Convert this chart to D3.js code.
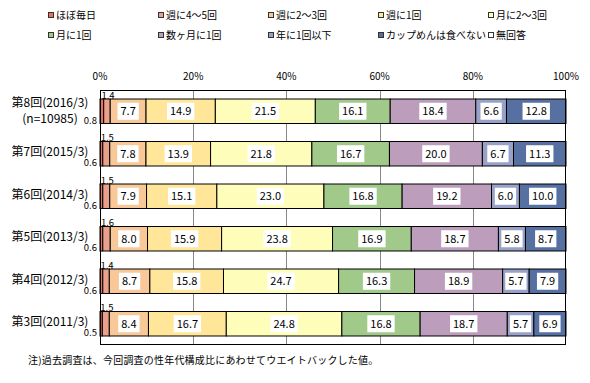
<!DOCTYPE html>
<html><head><meta charset="utf-8">
<script src="https://cdn.jsdelivr.net/npm/d3@7"></script>
<style>
html,body{margin:0;padding:0;background:#fff;}
text{font-family:"Noto Sans CJK JP","DejaVu Sans",sans-serif;fill:#000;}
</style></head>
<body><svg id="c" width="590" height="383"></svg>
<script>
const categories = ["第8回(2016/3)", "第7回(2015/3)", "第6回(2014/3)", "第5回(2013/3)", "第4回(2012/3)", "第3回(2011/3)"];
const subLabels = ["(n=10985)", "", "", "", "", ""];
const seriesNames = ["ほぼ毎日", "週に4～5回", "週に2～3回", "週に1回", "月に2～3回", "月に1回", "数ヶ月に1回", "年に1回以下", "カップめんは食べない", "無回答"];
const seriesColors = ["#E8705C", "#EBA08C", "#F9C898", "#FFE698", "#FFFDBA", "#A0C98A", "#BC9DBC", "#98A2C8", "#5670A2", "#FFFFFF"];
const hoboMainichi = [0.8, 0.6, 0.6, 0.6, 0.6, 0.5];
const shu45 = [1.4, 1.5, 1.5, 1.6, 1.4, 1.5];
const shu23 = [7.7, 7.8, 7.9, 8.0, 8.7, 8.4];
const shu1 = [14.9, 13.9, 15.1, 15.9, 15.8, 16.7];
const tsuki23 = [21.5, 21.8, 23.0, 23.8, 24.7, 24.8];
const tsuki1 = [16.1, 16.7, 16.8, 16.9, 16.3, 16.8];
const sukagetsu = [18.4, 20.0, 19.2, 18.7, 18.9, 18.7];
const nen1 = [6.6, 6.7, 6.0, 5.8, 5.7, 5.7];
const tabenai = [12.8, 11.3, 10.0, 8.7, 7.9, 6.9];
const mukaito = [0, 0, 0, 0, 0, 0];
const seriesValues = [hoboMainichi, shu45, shu23, shu1, tsuki23, tsuki1, sukagetsu, nen1, tabenai, mukaito];
const tickValues = [0, 0.2, 0.4, 0.6, 0.8, 1.0];
const tickLabels = ["0%", "20%", "40%", "60%", "80%", "100%"];
const footnote = "注)過去調査は、今回調査の性年代構成比にあわせてウエイトバックした値。";

const svg = d3.select("#c");
const L = 100, R = 566, T = 90, B = 345;
const x = d3.scaleLinear().domain([0, 1]).range([L, R]);
const y = d3.scaleBand().domain(categories).range([T, B]).paddingInner(0.424).paddingOuter(0.212);

// rows data normalized (100% stacked)
const rows = categories.map((c, i) => {
  const vals = seriesValues.map(s => s[i]);
  const tot = d3.sum(vals);
  let cum = 0;
  return vals.map((v, k) => { const s = {cat: c, k, v, x0: cum / tot, x1: (cum + v) / tot}; cum += v; return s; });
});

// gridlines
svg.append("g").selectAll("line").data(tickValues.slice(1, -1)).join("line")
  .attr("x1", d => Math.round(x(d)) + 0.5).attr("x2", d => Math.round(x(d)) + 0.5)
  .attr("y1", T).attr("y2", B).attr("stroke", "#888").attr("stroke-width", 1);

// axis labels
svg.append("g").selectAll("text").data(tickValues).join("text")
  .attr("x", d => x(d)).attr("y", 80).attr("text-anchor", "middle")
  .attr("font-size", 10).text((d, i) => tickLabels[i]);

// bars
const bars = svg.append("g");
rows.forEach(r => {
  bars.selectAll(null).data(r.filter(s => s.v > 0)).join("rect")
    .attr("x", s => x(s.x0)).attr("width", s => x(s.x1) - x(s.x0))
    .attr("y", s => y(s.cat)).attr("height", y.bandwidth())
    .attr("fill", s => seriesColors[s.k]).attr("stroke", "#000").attr("stroke-width", 1);
});

// inside labels with white boxes
const lab = svg.append("g");
rows.forEach(r => {
  r.filter(s => s.k >= 2 && s.v > 0).forEach(s => {
    const cx = (x(s.x0) + x(s.x1)) / 2, cy = y(s.cat) + y.bandwidth() / 2;
    const g = lab.append("g");
    const rect = g.append("rect").attr("fill", "#fff");
    const t = g.append("text").attr("x", cx).attr("y", cy + 4).attr("text-anchor", "middle")
      .attr("font-size", 11).attr("font-family", "DejaVu Sans").text(s.v.toFixed(1));
    const w = t.node().getComputedTextLength() + 6;
    rect.attr("x", cx - w / 2).attr("y", cy - 8.5).attr("width", w).attr("height", 17);
  });
  const s0 = r[0], s1 = r[1];
  lab.append("text").attr("x", 97).attr("y", y(s0.cat) + y.bandwidth() + 0.5).attr("text-anchor", "end")
    .attr("font-size", 9.5).attr("font-family", "DejaVu Sans").text(s0.v.toFixed(1));
  lab.append("text").attr("x", (x(s1.x0) + x(s1.x1)) / 2 + 1).attr("y", y(s1.cat) - 0.5).attr("text-anchor", "middle")
    .attr("font-size", 9.5).attr("font-family", "DejaVu Sans").text(s1.v.toFixed(1));
});

// plot border
svg.append("rect").attr("x", L + 0.5).attr("y", T + 0.5).attr("width", R - L - 1).attr("height", B - T - 1)
  .attr("fill", "none").attr("stroke", "#000").attr("stroke-width", 1);

// category labels
categories.forEach((c, i) => {
  const cy = y(c) + y.bandwidth() / 2;
  if (subLabels[i]) {
    svg.append("text").attr("x", 50).attr("y", cy - 4).attr("text-anchor", "middle").attr("font-size", 12).text(c);
    svg.append("text").attr("x", 50).attr("y", cy + 12).attr("text-anchor", "middle").attr("font-size", 12).text(subLabels[i]);
  } else {
    svg.append("text").attr("x", 50).attr("y", cy + 2.5).attr("text-anchor", "middle").attr("font-size", 12).text(c);
  }
});

// legend
const lg = svg.append("g");
seriesNames.forEach((n, i) => {
  const col = i % 5, row = Math.floor(i / 5);
  const lx = 48 + col * 110, ly = 15 + row * 20;
  lg.append("rect").attr("x", lx + 0.5).attr("y", ly - 2.5).attr("width", 5).attr("height", 5)
    .attr("fill", seriesColors[i]).attr("stroke", "#333").attr("stroke-width", 1);
  lg.append("text").attr("x", lx + 8).attr("y", ly + 4).attr("font-size", 10).text(n);
});

// footnote
svg.append("text").attr("x", 28).attr("y", 364).attr("font-size", 10).attr("letter-spacing", 0.2).text(footnote);
</script>
</body></html>
